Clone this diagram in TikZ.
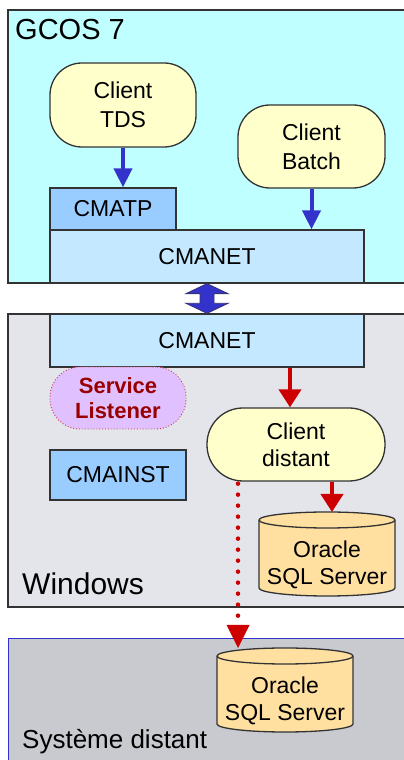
\documentclass[tikz,border=0pt]{standalone}
\usepackage{fontspec}
\setmainfont{Liberation Sans}
\usetikzlibrary{arrows.meta,calc}
\definecolor{edge}{HTML}{333333}
\definecolor{gcos}{HTML}{C0FFFF}
\definecolor{win}{HTML}{E4E5EA}
\definecolor{dist}{HTML}{C8CACF}
\definecolor{distedge}{HTML}{3333CC}
\definecolor{ycol}{HTML}{FFFFCC}
\definecolor{bcol}{HTML}{99CCFF}
\definecolor{ncol}{HTML}{C4E8FF}
\definecolor{lav}{HTML}{E0C0FF}
\definecolor{lavedge}{HTML}{CC3344}
\definecolor{lavtext}{HTML}{990000}
\definecolor{orcol}{HTML}{FFE0A0}
\definecolor{barrow}{HTML}{3333CC}
\definecolor{rarrow}{HTML}{CC0000}
\newcommand\mycyl[3]{%
  \filldraw[fill=orcol,draw=edge,line width=1.3pt] (#2-68,#3+34) -- (#2-68,#3-34)
    arc[start angle=180,end angle=360,x radius=68,y radius=8] -- (#2+68,#3+34)
    arc[start angle=0,end angle=180,x radius=68,y radius=8] -- cycle;
  \draw[edge,line width=1.3pt] (#2-68,#3+34) arc[start angle=180,end angle=360,x radius=68,y radius=8];
  \node[txt] (#1) at (#2,#3-11) {Oracle\\SQL Server};
  \coordinate (#1top) at (#2,#3+42);
}
\begin{document}
\begin{tikzpicture}[x=1pt,y=1pt,
  txt/.style={inner sep=0pt,align=center,font=\fontsize{23}{27}\selectfont},
  box/.style={txt,draw=edge,line width=1.3pt},
  pill/.style={box,fill=ycol},
  panel/.style={draw=edge,line width=1.3pt},
  plabel/.style={anchor=base west,inner sep=0pt},
  barr/.style={draw=barrow,line width=4pt,-{Triangle[width=18pt,length=19pt]}},
  rarr/.style={draw=rarrow,line width=4pt,-{Triangle[width=22pt,length=18pt]}}]
\useasboundingbox (0,0) rectangle (404,760);
\clip (0,0) rectangle (404,760);
% panels
\filldraw[panel,fill=gcos] (8,750) rectangle (412,477);
\filldraw[panel,fill=win] (8,446) rectangle (412,153);
\filldraw[fill=dist,draw=distedge,line width=0.9pt] (8,122) rectangle (412,-10);
\node[plabel,font=\fontsize{29}{32}\selectfont] (lgcos) at (15,720) {GCOS 7};
\node[plabel,font=\fontsize{30}{32}\selectfont] (lwin) at (22,165) {Windows};
\node[plabel,font=\fontsize{26}{30}\selectfont] (ldist) at (22,12) {Système distant};
% GCOS
\node[pill,rounded corners=32pt,minimum width=146pt,minimum height=84pt] (tds) at (123,655) {Client\\[2pt]TDS};
\node[pill,rounded corners=32pt,minimum width=147pt,minimum height=83pt] (batch) at (311.5,613.5) {Client\\[2pt]Batch};
\node[box,fill=bcol,minimum width=126pt,minimum height=42pt] (cmatp) at (113,551) {CMATP};
\node[box,fill=ncol,minimum width=314pt,minimum height=53pt] (net1) at (207,503.5) {CMANET};
% Windows
\node[box,fill=ncol,minimum width=314pt,minimum height=53pt] (net2) at (207,419.5) {CMANET};
\node[txt,draw=lavedge,dotted,line width=0.9pt,fill=lav,rounded corners=30pt,minimum width=136pt,minimum height=62pt,
  text=lavtext,font=\fontsize{22}{25}\selectfont\bfseries] (svc) at (118,362) {Service\\Listener};
\node[box,fill=bcol,minimum width=136pt,minimum height=50pt] (inst) at (118,285) {CMAINST};
\node[pill,rounded corners=36pt,minimum width=178pt,minimum height=73pt] (cd) at (296,315.5) {Client\\distant};
\mycyl{ora1}{327}{206}
\mycyl{ora2}{285}{70}
% arrows
\draw[barr] (tds.south) -- (tds.south |- cmatp.north);
\draw[barr] (batch.south) -- (batch.south |- net1.north);
\coordinate (r1) at (290,0);
\coordinate (r2) at (332,0);
\coordinate (r3) at (238,0);
\draw[rarr] (net2.south -| r1) -- (cd.north -| r1);
\draw[rarr] (cd.south -| r2) -- (ora1top -| r2);
\coordinate (dtip) at (ora2top -| r3);
\draw[draw=rarrow,line width=4.5pt,line cap=round,dash pattern=on 0pt off 11pt]
  ($(cd.south -| r3)+(0,-2)$) -- ($(dtip)+(0,26)$);
\fill[rarrow] (dtip) -- ($(dtip)+(-11.5,23)$) -- ($(dtip)+(11.5,23)$) -- cycle;
% double block arrow
\coordinate (da) at (net1.south);
\coordinate (db) at (net2.north);
\filldraw[fill=barrow,draw=edge!60!barrow,line width=0.8pt]
  (da) -- ($(da)+(21,-10)$) -- ($(da)+(7,-10)$) -- ($(db)+(7,10)$) -- ($(db)+(21,10)$) -- (db)
  -- ($(db)+(-21,10)$) -- ($(db)+(-7,10)$) -- ($(da)+(-7,-10)$) -- ($(da)+(-21,-10)$) -- cycle;
\end{tikzpicture}
\end{document}
